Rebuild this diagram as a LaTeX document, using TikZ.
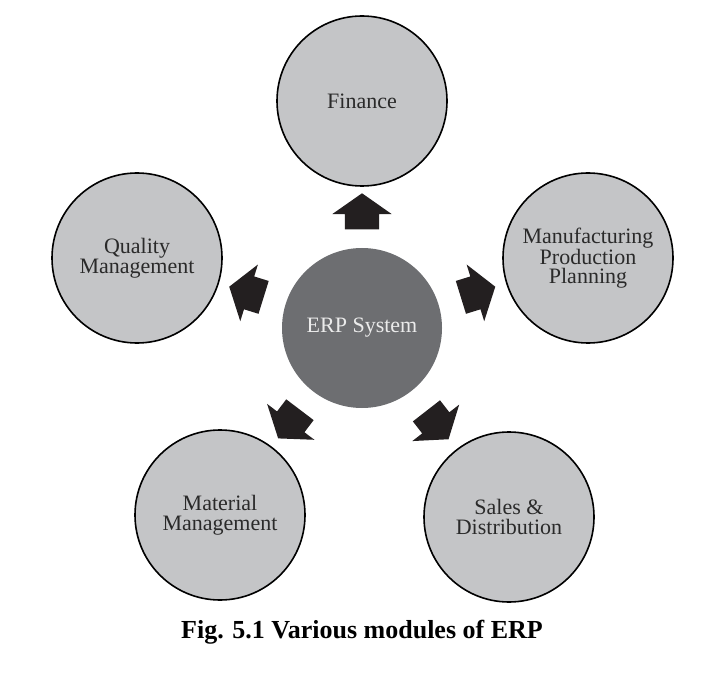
\documentclass[tikz,border=0pt]{standalone}
\usepackage{fontspec}
\setmainfont{Liberation Serif}
\usetikzlibrary{shapes.arrows}
\definecolor{modgray}{HTML}{C4C5C7}
\definecolor{hubgray}{HTML}{6D6E71}
\definecolor{arrowblack}{HTML}{231F20}
\definecolor{textgray}{HTML}{2A2A2A}
\tikzset{
  module/.style={circle, draw=black, line width=1.6pt, fill=modgray, minimum size=170pt,
    inner sep=0pt, align=center, text=textgray, font=\fontsize{22}{19.5}\selectfont},
  hub/.style={circle, fill=hubgray, minimum size=160pt, inner sep=0pt,
    text=white!92!black, font=\fontsize{22}{26}\selectfont},
  blockarr/.style={single arrow, fill=arrowblack, draw=none, inner xsep=0pt, inner ysep=17pt,
    minimum height=36pt, minimum width=59pt, single arrow head extend=12.5pt,
    single arrow tip angle=110, sloped, allow upside down}
}
\begin{document}
\begin{tikzpicture}[x=1pt,y=1pt]
			%%%%% START %%%%%
			\useasboundingbox (0,0) rectangle (719,678);
			
			\node[hub] (erp) at (362,350) {ERP System};
			
			\node[module] (fin) at (362,577) {Finance};
			\node[module] (mpp) at (588,420) {Manufacturing\\Production\\Planning};
			\node[module] (sd)  at (509,161) {Sales \&\\Distribution};
			\node[module] (mm)  at (220,163) {Material\\Management};
			\node[module] (qm)  at (137,420) {Quality\\Management};
			
			\path (erp) -- node[blockarr] (a1) {} (fin);
			\path (erp) -- node[blockarr] (a2) {} (mpp);
			\path (erp) -- node[blockarr] (a3) {} (sd);
			\path (erp) -- node[blockarr] (a4) {} (mm);
			\path (erp) -- node[blockarr] (a5) {} (qm);
			
			\node (cap) at (362,46) {\fontsize{26}{30}\selectfont\bfseries Fig. 5.1 Various modules of ERP};
			
			%%%%% END %%%%%
\end{tikzpicture}
\end{document}
